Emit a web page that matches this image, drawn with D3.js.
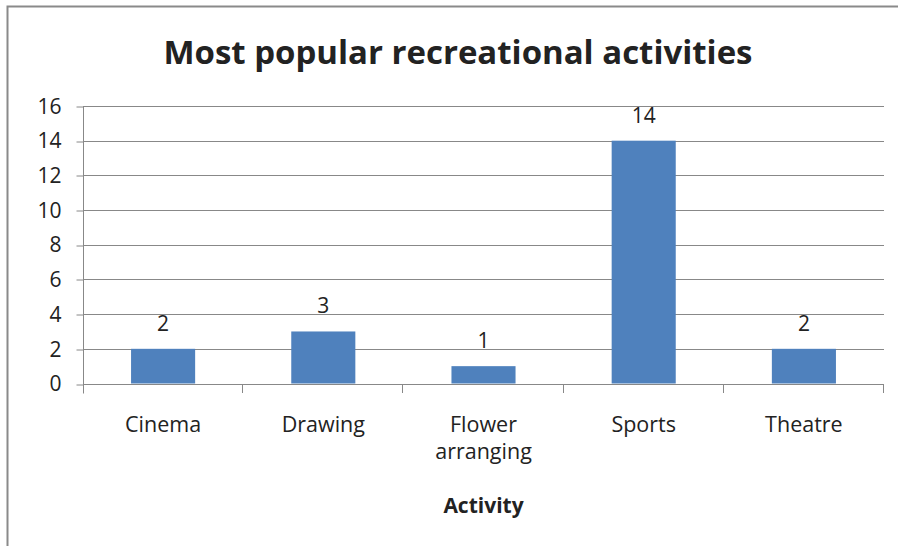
<!DOCTYPE html>
<html>
<head>
<meta charset="utf-8">
<script src="https://cdn.jsdelivr.net/npm/d3@7"></script>
<style>
  html, body { margin: 0; padding: 0; background: #fff; }
  svg { display: block; }
  text { font-family: "Open Sans", "Noto Sans", sans-serif; fill: #222; }
</style>
</head>
<body>
<div id="chart"></div>
<script>
// Survey results: number of people naming each activity
const categories = ["Cinema", "Drawing", "Flower arranging", "Sports", "Theatre"];
const counts = [2, 3, 1, 14, 2];
const yTicks = [0, 2, 4, 6, 8, 10, 12, 14, 16];
const chartTitle = "Most popular recreational activities";
const xAxisTitle = "Activity";

const W = 898, H = 546;
const plot = { left: 83, right: 884, top: 106, bottom: 383.5 };

const svg = d3.select("#chart").append("svg")
  .attr("width", W).attr("height", H);

// chart frame (runs off the right and bottom edges)
svg.append("rect")
  .attr("x", 7.5).attr("y", 6.5)
  .attr("width", W + 20).attr("height", H + 20)
  .attr("fill", "#fff")
  .attr("stroke", "#8a8a8a").attr("stroke-width", 2);

const x = d3.scaleBand()
  .domain(categories)
  .range([plot.left, plot.right])
  .paddingInner(0.6).paddingOuter(0.3);

const xBoundary = d3.scaleLinear()
  .domain([0, categories.length])
  .range([plot.left, plot.right]);

const y = d3.scaleLinear()
  .domain([0, 16])
  .range([plot.bottom, plot.top]);

// horizontal gridlines
svg.append("g")
  .selectAll("line")
  .data(yTicks.filter(d => d > 0))
  .join("line")
  .attr("x1", plot.left).attr("x2", plot.right)
  .attr("y1", d => Math.round(y(d)) + 0.5).attr("y2", d => Math.round(y(d)) + 0.5)
  .attr("stroke", "#888").attr("stroke-width", 1);

// y axis
const yAxis = svg.append("g")
  .attr("transform", `translate(${plot.left + 0.5},0.5)`)
  .call(d3.axisLeft(y).tickValues(yTicks).tickSize(7).tickPadding(15));
yAxis.select(".domain").attr("stroke", "#888")
  .attr("d", `M0,${Math.round(plot.top)}V${Math.round(plot.bottom) + 9}`);
yAxis.selectAll(".tick line").attr("stroke", "#888")
  .attr("transform", d => `translate(0,${Math.round(y(d)) - y(d)})`);
yAxis.selectAll(".tick text")
  .style("font-family", "'Open Sans', sans-serif")
  .style("font-size", "21px").attr("fill", "#222");

// x axis baseline and category boundary ticks
const xg = svg.append("g");
xg.append("line")
  .attr("x1", plot.left).attr("x2", plot.right)
  .attr("y1", Math.round(plot.bottom) + 0.5).attr("y2", Math.round(plot.bottom) + 0.5)
  .attr("stroke", "#888");
xg.selectAll("line.tick")
  .data(d3.range(1, categories.length + 1))
  .join("line").attr("class", "tick")
  .attr("x1", d => Math.round(xBoundary(d)) - 0.5).attr("x2", d => Math.round(xBoundary(d)) - 0.5)
  .attr("y1", Math.round(plot.bottom)).attr("y2", Math.round(plot.bottom) + 9)
  .attr("stroke", "#888");

// bars
svg.append("g")
  .selectAll("rect")
  .data(categories.map((c, i) => ({ c, v: counts[i] })))
  .join("rect")
  .attr("x", d => x(d.c))
  .attr("width", x.bandwidth())
  .attr("y", d => y(d.v))
  .attr("height", d => y(0) - y(d.v))
  .attr("fill", "#4f81bd");

// value labels
svg.append("g")
  .selectAll("text")
  .data(categories.map((c, i) => ({ c, v: counts[i] })))
  .join("text")
  .attr("x", d => x(d.c) + x.bandwidth() / 2)
  .attr("y", d => y(d.v) - 18)
  .attr("text-anchor", "middle")
  .style("font-size", "21px")
  .text(d => d.v);

// category labels, wrapped onto two lines where needed
const catLabels = svg.append("g")
  .selectAll("text")
  .data(categories)
  .join("text")
  .attr("x", d => x(d) + x.bandwidth() / 2)
  .attr("y", 432)
  .attr("text-anchor", "middle")
  .style("font-size", "21.5px");
catLabels.each(function (d) {
  const words = d === "Flower arranging" ? ["Flower", "arranging"] : [d];
  const t = d3.select(this);
  words.forEach((w, i) => {
    t.append("tspan")
      .attr("x", x(d) + x.bandwidth() / 2)
      .attr("dy", i === 0 ? 0 : 27)
      .text(w);
  });
});

// axis title
svg.append("text")
  .attr("x", (plot.left + plot.right) / 2)
  .attr("y", 513)
  .attr("text-anchor", "middle")
  .style("font-size", "21px").style("font-weight", "bold")
  .attr("fill", "#111")
  .text(xAxisTitle);

// chart title
svg.append("text")
  .attr("x", 458)
  .attr("y", 64)
  .attr("text-anchor", "middle")
  .style("font-size", "32px").style("font-weight", "bold")
  .attr("textLength", 589).attr("lengthAdjust", "spacingAndGlyphs")
  .attr("fill", "#111")
  .text(chartTitle);
</script>
</body>
</html>
